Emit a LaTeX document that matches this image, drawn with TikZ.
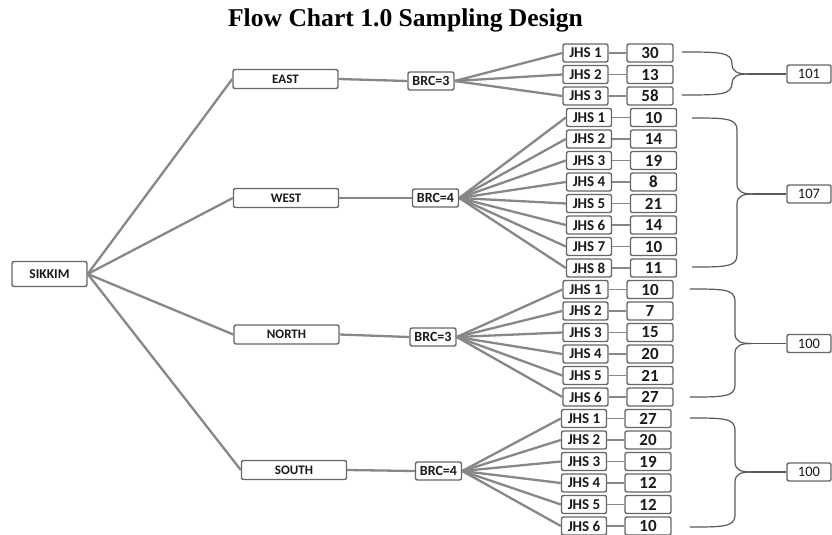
\documentclass[tikz,border=0pt]{standalone}
\usepackage{fontspec}
\setmainfont{Carlito}
\newfontfamily\titlefont{Liberation Serif}
\usetikzlibrary{calc}
\definecolor{linegray}{HTML}{878787}
\definecolor{boxgray}{HTML}{666666}
\definecolor{txt}{HTML}{1A1A1A}
\newcommand\mybrace[6]{% #1 name, #2 top x, #3 top y, #4 bottom y, #5 vertical x, #6 tip y
  \coordinate (#1top) at (#2,#3);
  \coordinate (#1bot) at (#2,#4);
  \coordinate (#1tip) at (#5+16,#6);
  \draw[bracel] (#1top) .. controls (#5-12,#3) and (#5,#3) .. (#5,#3+12)
     -- (#5,#6-10) .. controls (#5,#6-2) and (#5+6,#6) .. (#1tip);
  \draw[bracel] (#1bot) .. controls (#5-12,#4) and (#5,#4) .. (#5,#4-12)
     -- (#5,#6+10) .. controls (#5,#6+2) and (#5+6,#6) .. (#1tip);
}
\begin{document}
\begin{tikzpicture}[x=1pt,y=-1pt,
  box/.style={draw=boxgray, line width=1.4pt, rounded corners=2pt, fill=white,
    inner sep=0pt, text=txt},
  sik/.style={box, minimum width=75pt, minimum height=25pt, font=\bfseries\fontsize{13.5}{14}\selectfont},
  region/.style={box, minimum width=105pt, minimum height=19pt, font=\bfseries\fontsize{13}{13}\selectfont},
  brcbox/.style={box, minimum width=46pt, minimum height=18pt, font=\bfseries\fontsize{14}{14}\selectfont},
  jhs/.style={box, minimum width=45pt, minimum height=18pt, font=\bfseries\fontsize{15}{15}\selectfont},
  numbox/.style={box, minimum width=46pt, minimum height=18pt, font=\bfseries\fontsize{17}{17}\selectfont},
  totbox/.style={box, minimum width=44pt, minimum height=18pt, font=\fontsize{14.5}{14.5}\selectfont},
  conn/.style={draw=linegray, line width=2.3pt},
  thinconn/.style={draw=linegray, line width=1.5pt},
  bracel/.style={draw=black!65, line width=1.2pt},
]
\useasboundingbox (0,0) rectangle (832,535);

\node[anchor=base, font=\titlefont\bfseries\fontsize{25.6}{26}\selectfont] (title) at (405.5,27) {Flow Chart 1.0 Sampling Design};

\node[sik] (sikkim) at (49.5,274) {SIKKIM};

\node[region] (east) at (285.5,79) {EAST};
\node[region] (west) at (286,198) {WEST};
\node[region] (north) at (286.5,334.5) {NORTH};
\node[region] (south) at (294,470) {SOUTH};

\foreach \r in {east,west,north,south}{
  \draw[conn] (sikkim.east) -- (\r.west);
}

\node[brcbox] (ebrc) at (431,81) {BRC=3};
\node[brcbox] (wbrc) at (435.5,198) {BRC=4};
\node[brcbox] (nbrc) at (433,337) {BRC=3};
\node[brcbox] (sbrc) at (438.5,471) {BRC=4};

\draw[conn] (east.east) -- (ebrc.west);
\draw[conn] (west.east) -- (wbrc.west);
\draw[conn] (north.east) -- (nbrc.west);
\draw[conn] (south.east) -- (sbrc.west);

% East
\foreach \v [count=\i] in {30,13,58}{
  \pgfmathsetmacro\yy{53+21.5*(\i-1)}
  \node[jhs] (ej\i) at (585.5,\yy) {JHS \i};
  \node[numbox] (en\i) at (650,\yy) {\v};
  \draw[conn] (ebrc.east) -- (ej\i.west);
  \draw[thinconn] (ej\i.east) -- (en\i.west);
}
% West
\foreach \v [count=\i] in {10,14,19,8,21,14,10,11}{
  \pgfmathsetmacro\yy{53+21.5*(\i+2)}
  \node[jhs] (wj\i) at (589,\yy) {JHS \i};
  \node[numbox] (wn\i) at (653.5,\yy) {\v};
  \draw[conn] (wbrc.east) -- (wj\i.west);
  \draw[thinconn] (wj\i.east) -- (wn\i.west);
}
% North
\foreach \v [count=\i] in {10,7,15,20,21,27}{
  \pgfmathsetmacro\yy{53+21.5*(\i+10)}
  \node[jhs] (nj\i) at (585.5,\yy) {JHS \i};
  \node[numbox] (nn\i) at (650,\yy) {\v};
  \draw[conn] (nbrc.east) -- (nj\i.west);
  \draw[thinconn] (nj\i.east) -- (nn\i.west);
}
% South
\foreach \v [count=\i] in {27,20,19,12,12,10}{
  \pgfmathsetmacro\yy{53+21.5*(\i+16)}
  \node[jhs] (sj\i) at (584,\yy) {JHS \i};
  \node[numbox] (sn\i) at (648,\yy) {\v};
  \draw[conn] (sbrc.east) -- (sj\i.west);
  \draw[thinconn] (sj\i.east) -- (sn\i.west);
}

% totals
\node[totbox] (etot) at (809,74) {101};
\node[totbox] (wtot) at (809,194) {107};
\node[totbox] (ntot) at (809,343.5) {100};
\node[totbox] (stot) at (809,472) {100};

\mybrace{e}{682}{52}{95}{732}{74}
\mybrace{w}{692}{118}{267}{737}{194}
\mybrace{n}{690}{289}{397}{735}{343.5}
\mybrace{s}{690}{418}{527}{735}{472}

\draw[bracel] (etip) -- (etot.west);
\draw[bracel] (wtip) -- (wtot.west);
\draw[bracel] (ntip) -- (ntot.west);
\draw[bracel] (stip) -- (stot.west);
\end{tikzpicture}
\end{document}
